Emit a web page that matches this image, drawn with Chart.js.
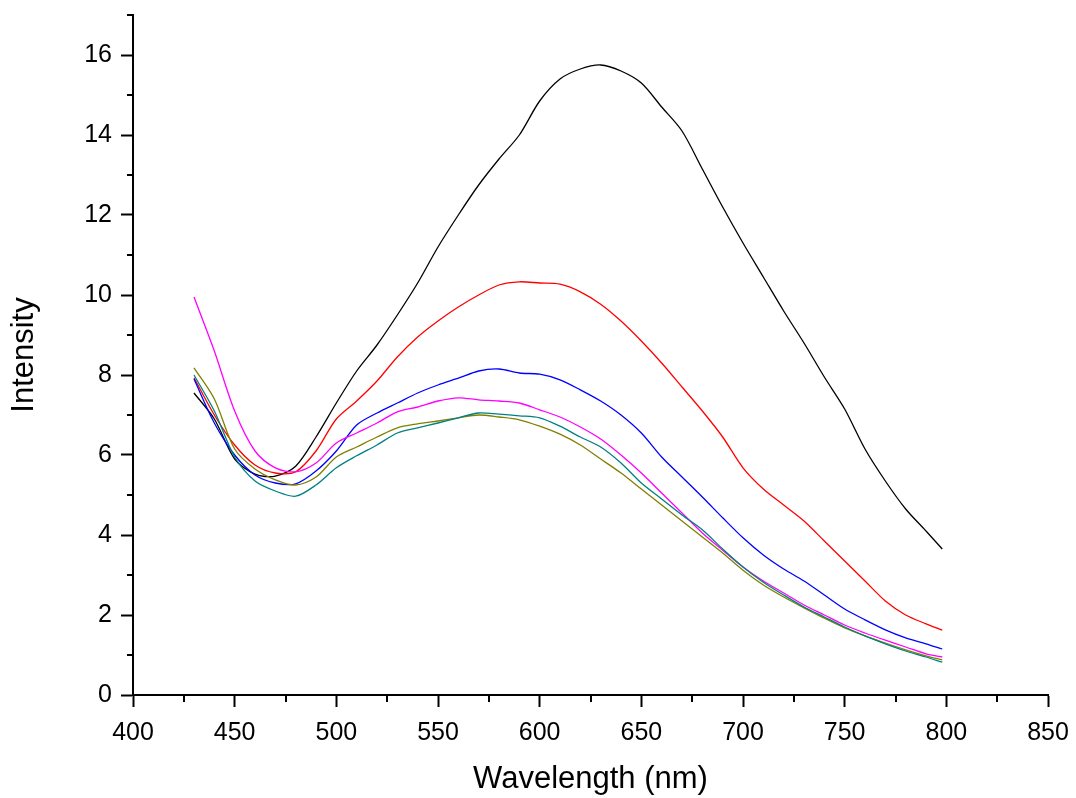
<!DOCTYPE html>
<html>
<head>
<meta charset="utf-8">
<script src="https://cdn.jsdelivr.net/npm/chart.js@4.4.1/dist/chart.umd.min.js"></script>
<style>
    html, body { margin: 0; padding: 0; background: #fff; }
    #wrap { width: 1076px; height: 798px; }
</style>
</head>
<body>
<div id="wrap"><canvas id="grafico-espectros"></canvas></div>
<script>
// Wavelength axis (nm)
const comprimentos = [430, 440, 450, 460, 470, 480, 490, 500, 510, 520, 530, 540, 550, 560, 570, 580, 590, 600,
    610, 620, 630, 640, 650, 660, 670, 680, 690, 700, 710, 720, 730, 740, 750, 760, 770, 780, 790, 798];

// Intensity of each spectrum
const seriePreta = [7.55, 6.9, 5.9, 5.52, 5.47, 5.72, 6.45, 7.3, 8.1, 8.75, 9.5, 10.3, 11.2, 12.0, 12.75, 13.4, 14.0, 14.85,
    15.4, 15.65, 15.75, 15.6, 15.3, 14.7, 14.1, 13.15, 12.2, 11.3, 10.45, 9.6, 8.8, 7.95, 7.15, 6.15, 5.35, 4.65, 4.1, 3.65];
const serieVermelha = [7.93, 7.0, 6.25, 5.75, 5.55, 5.58, 6.1, 6.9, 7.35, 7.85, 8.45, 8.95, 9.35, 9.7, 10.0, 10.25, 10.33, 10.3,
    10.27, 10.08, 9.77, 9.35, 8.85, 8.3, 7.7, 7.1, 6.45, 5.68, 5.15, 4.75, 4.35, 3.85, 3.35, 2.85, 2.35, 2.0, 1.78, 1.62];
const serieAzul = [7.9, 6.8, 6.0, 5.5, 5.3, 5.28, 5.6, 6.1, 6.75, 7.05, 7.3, 7.55, 7.75, 7.92, 8.1, 8.15, 8.05, 8.02,
    7.88, 7.63, 7.35, 7.0, 6.55, 5.95, 5.45, 4.95, 4.43, 3.93, 3.5, 3.15, 2.85, 2.5, 2.15, 1.88, 1.63, 1.43, 1.28, 1.15];
const serieMagenta = [9.95, 8.6, 7.1, 6.1, 5.68, 5.58, 5.8, 6.3, 6.55, 6.8, 7.08, 7.2, 7.35, 7.43, 7.38, 7.35, 7.3, 7.13,
    6.95, 6.7, 6.4, 6.0, 5.55, 5.05, 4.55, 4.05, 3.62, 3.2, 2.85, 2.55, 2.25, 2.0, 1.75, 1.55, 1.37, 1.2, 1.03, 0.95];
const serieOliva = [8.18, 7.4, 6.15, 5.65, 5.38, 5.25, 5.45, 5.95, 6.2, 6.45, 6.68, 6.78, 6.85, 6.93, 7.0, 6.95, 6.88, 6.72,
    6.52, 6.25, 5.9, 5.55, 5.15, 4.75, 4.35, 3.95, 3.55, 3.12, 2.75, 2.45, 2.18, 1.92, 1.68, 1.48, 1.3, 1.13, 0.98, 0.88];
const serieCiano = [8.0, 7.1, 5.95, 5.35, 5.1, 4.97, 5.25, 5.68, 5.98, 6.25, 6.55, 6.68, 6.8, 6.93, 7.05, 7.02, 6.98, 6.93,
    6.72, 6.45, 6.2, 5.8, 5.3, 4.9, 4.5, 4.13, 3.65, 3.2, 2.82, 2.5, 2.2, 1.95, 1.7, 1.48, 1.28, 1.1, 0.95, 0.82];

// Minor tick values
const menoresX = [425, 475, 525, 575, 625, 675, 725, 775, 825];
const menoresY = [1, 3, 5, 7, 9, 11, 13, 15, 17];

function pontos(serie) {
    return comprimentos.map((c, i) => ({ x: c, y: serie[i] }));
}

function serie(dados, cor) {
    return {
        data: pontos(dados),
        borderColor: cor,
        backgroundColor: cor,
        borderWidth: 1.3,
        pointRadius: 0,
        tension: 0.3,
        fill: false
    };
}

// Plugin: short minor ticks between the major ones
const ticksMenores = {
    id: 'ticksMenores',
    afterDraw(chart) {
        const ctx = chart.ctx;
        const sx = chart.scales.x;
        const sy = chart.scales.y;
        ctx.save();
        ctx.strokeStyle = '#000';
        ctx.lineWidth = 2;
        ctx.beginPath();
        menoresX.forEach(v => {
            const px = Math.round(sx.getPixelForValue(v));
            ctx.moveTo(px, sx.top);
            ctx.lineTo(px, sx.top + 7);
        });
        menoresY.forEach(v => {
            const py = Math.round(sy.getPixelForValue(v));
            ctx.moveTo(sy.right, py);
            ctx.lineTo(sy.right - 6, py);
        });
        ctx.stroke();
        ctx.restore();
    }
};

const fonteTicks = { family: "'Liberation Sans', Arial, sans-serif", size: 25 };
const fonteTitulo = { family: "'Liberation Sans', Arial, sans-serif", size: 31 };

new Chart(document.getElementById('grafico-espectros').getContext('2d'), {
    type: 'line',
    data: {
        datasets: [
            serie(serieCiano, '#008080'),
            serie(serieOliva, '#808000'),
            serie(serieMagenta, '#ff00ff'),
            serie(serieAzul, '#0000ff'),
            serie(serieVermelha, '#ff0000'),
            serie(seriePreta, '#000000')
        ]
    },
    options: {
        responsive: true,
        maintainAspectRatio: false,
        animation: false,
        layout: { padding: { left: 0, top: 15, right: 28, bottom: 0 } },
        plugins: {
            legend: { display: false },
            tooltip: { enabled: false }
        },
        scales: {
            x: {
                type: 'linear',
                min: 400,
                max: 850,
                afterFit(scale) {
                    scale.height = 103;
                    scale.paddingLeft = 0;
                    scale.paddingRight = 0;
                },
                border: { display: true, color: '#000', width: 2 },
                grid: { drawOnChartArea: false, drawTicks: true, tickLength: 12, tickColor: '#000', tickWidth: 2 },
                ticks: { stepSize: 50, color: '#000', font: fonteTicks, padding: 11, maxRotation: 0, includeBounds: false },
                title: { display: true, text: 'Wavelength (nm)', color: '#000', font: fonteTitulo, padding: { top: 0, bottom: 0 } }
            },
            y: {
                min: 0,
                max: 17,
                afterFit(scale) {
                    scale.width = 133;
                    scale.paddingTop = 0;
                    scale.paddingBottom = 0;
                },
                border: { display: true, color: '#000', width: 2 },
                grid: { drawOnChartArea: false, drawTicks: true, tickLength: 12, tickColor: '#000', tickWidth: 2 },
                ticks: { stepSize: 2, color: '#000', font: fonteTicks, padding: 9, includeBounds: false },
                title: { display: true, text: 'Intensity', color: '#000', font: fonteTitulo, padding: { top: 6, bottom: 0 } }
            }
        }
    },
    plugins: [ticksMenores]
});
</script>
</body>
</html>
